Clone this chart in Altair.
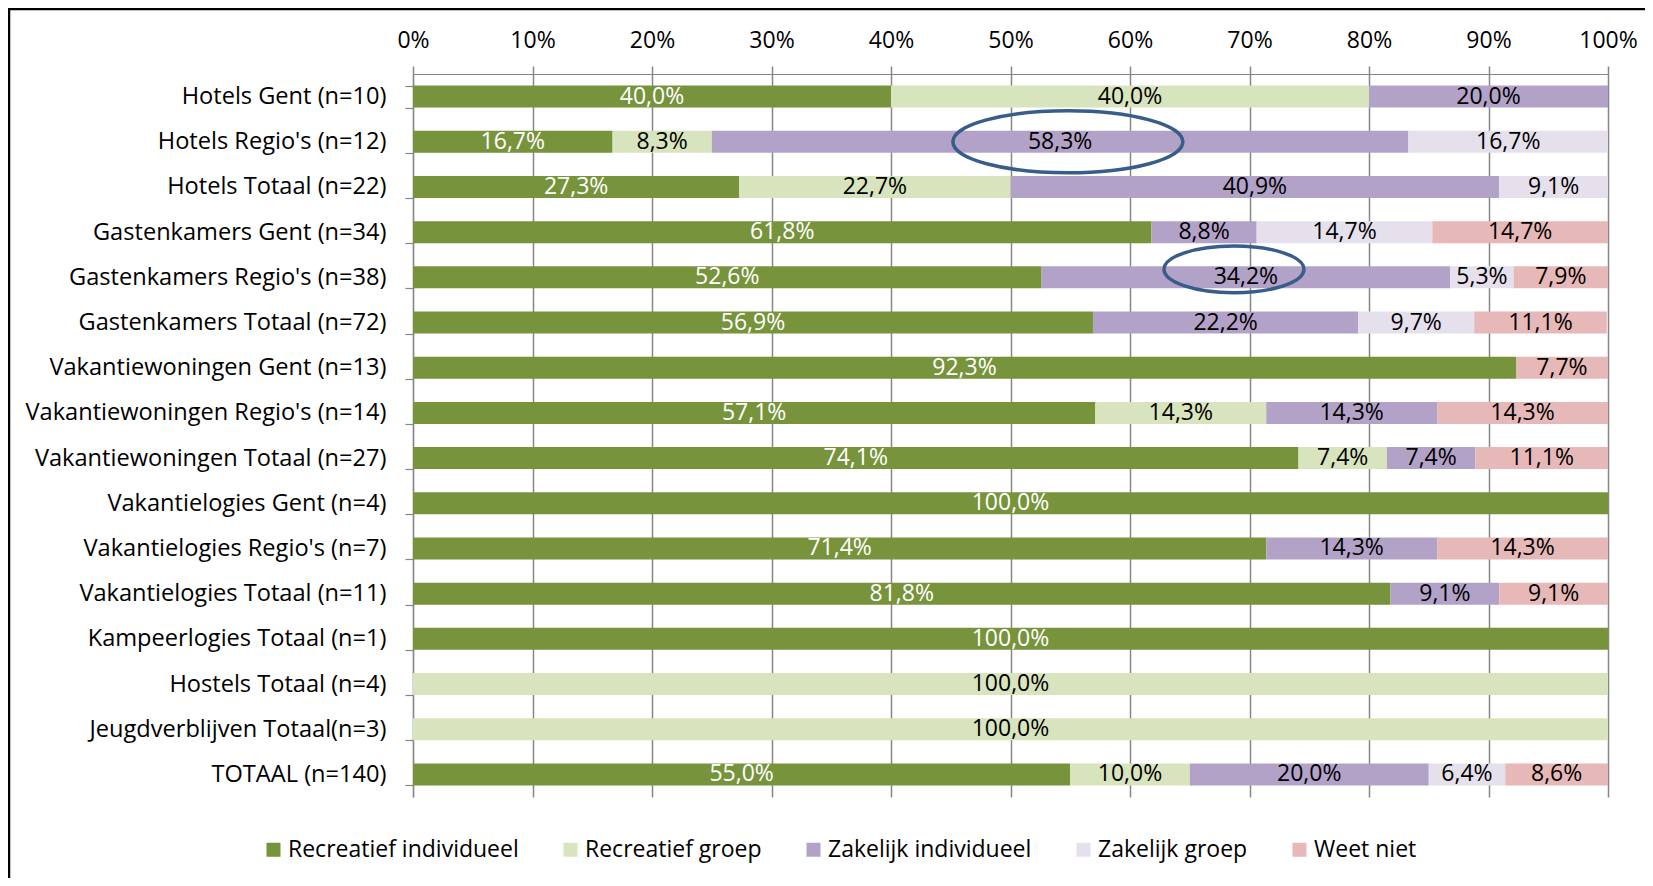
import altair as alt
import pandas as pd

categories = [
    "Hotels Gent (n=10)",
    "Hotels Regio's (n=12)",
    "Hotels Totaal (n=22)",
    "Gastenkamers Gent (n=34)",
    "Gastenkamers Regio's (n=38)",
    "Gastenkamers Totaal (n=72)",
    "Vakantiewoningen Gent (n=13)",
    "Vakantiewoningen Regio's (n=14)",
    "Vakantiewoningen Totaal (n=27)",
    "Vakantielogies Gent (n=4)",
    "Vakantielogies Regio's (n=7)",
    "Vakantielogies Totaal (n=11)",
    "Kampeerlogies Totaal (n=1)",
    "Hostels Totaal (n=4)",
    "Jeugdverblijven Totaal(n=3)",
    "TOTAAL (n=140)",
]
series = ["Recreatief individueel", "Recreatief groep", "Zakelijk individueel",
          "Zakelijk groep", "Weet niet"]

rec_individueel = [40.0, 16.7, 27.3, 61.8, 52.6, 56.9, 92.3, 57.1, 74.1, 100.0, 71.4, 81.8, 100.0, 0, 0, 55.0]
rec_groep = [40.0, 8.3, 22.7, 0, 0, 0, 0, 14.3, 7.4, 0, 0, 0, 0, 100.0, 100.0, 10.0]
zak_individueel = [20.0, 58.3, 40.9, 8.8, 34.2, 22.2, 0, 14.3, 7.4, 0, 14.3, 9.1, 0, 0, 0, 20.0]
zak_groep = [0, 16.7, 9.1, 14.7, 5.3, 9.7, 0, 0, 0, 0, 0, 0, 0, 0, 0, 6.4]
weet_niet = [0, 0, 0, 14.7, 7.9, 11.1, 7.7, 14.3, 11.1, 0, 14.3, 9.1, 0, 0, 0, 8.6]

colors = ["#77933C", "#D7E4BD", "#B3A2C7", "#E6E0EC", "#E6B9B8"]
x_ticks = list(range(0, 101, 10))

# annotation ellipses (category, centre in %)
ellipse_rows = ["Hotels Regio's (n=12)", "Gastenkamers Regio's (n=38)"]
ellipse_centres = [54.8, 68.7]

FONT = "Open Sans"
FS = 23
GRID = "#868686"

values = [rec_individueel, rec_groep, zak_individueel, zak_groep, weet_niet]
rows = []
for i, cat in enumerate(categories):
    start = 0.0
    for s, ser in enumerate(series):
        v = values[s][i]
        if v > 0:
            rows.append({
                "cat": cat, "series": ser, "start": start, "end": start + v,
                "mid": start + v / 2,
                "label": f"{v:.1f}".replace(".", ",") + "%",
            })
        start += v
df = pd.DataFrame(rows)

y_enc = alt.Y(
    "cat:N", sort=categories, title=None,
    scale=alt.Scale(domain=categories, paddingInner=0.513, paddingOuter=0.2565),
    axis=alt.Axis(
        orient="left", domain=True, domainColor=GRID, domainWidth=1.2,
        ticks=True, tickBand="extent", tickSize=8, tickColor=GRID, tickWidth=1.2,
        labelFont=FONT, labelFontSize=23.6, labelColor="black", labelPadding=19,
        labelLimit=0, grid=False,
    ),
)

x_scale = alt.Scale(domain=[0, 100], nice=False, zero=True)

bars = alt.Chart(df).mark_bar().encode(
    y=y_enc,
    x=alt.X(
        "start:Q", scale=x_scale, title=None,
        axis=alt.Axis(
            orient="top", values=x_ticks, labelExpr="datum.value + '%'",
            domain=True, domainColor=GRID, domainWidth=1.2,
            ticks=True, tickSize=8, tickColor=GRID, tickWidth=1.5,
            grid=True, gridColor=GRID, gridWidth=1.5,
            labelFont=FONT, labelFontSize=FS, labelColor="black", labelPadding=14,
            labelFlush=False,
        ),
    ),
    x2="end:Q",
    color=alt.Color(
        "series:N", scale=alt.Scale(domain=series, range=colors),
        legend=alt.Legend(
            title=None, orient="none", direction="horizontal",
            legendX=-151, legendY=764, padding=0,
            symbolType="square", symbolSize=196, symbolStrokeWidth=0,
            labelFont=FONT, labelFontSize=FS, labelColor="black",
            labelOffset=3, columnPadding=40, labelLimit=0,
        ),
    ),
)

text = alt.Chart(df).mark_text(font=FONT, fontSize=FS, baseline="middle", align="center").encode(
    y=alt.Y("cat:N", sort=categories),
    x=alt.X("mid:Q", scale=x_scale),
    text="label:N",
    color=alt.condition(alt.datum.series == series[0], alt.value("white"), alt.value("black")),
)

edf = pd.DataFrame({"cat": ellipse_rows, "x": ellipse_centres})

ell1 = alt.Chart(edf.iloc[[0]]).mark_point(
    shape="M -1 0 A 1 0.27 0 1 0 1 0 A 1 0.27 0 1 0 -1 0 Z",
    size=52900, filled=False, stroke="#385D8A", strokeWidth=3.5, opacity=1,
).encode(y=alt.Y("cat:N", sort=categories), x=alt.X("x:Q", scale=x_scale))

ell2 = alt.Chart(edf.iloc[[1]]).mark_point(
    shape="M -1 0 A 1 0.333 0 1 0 1 0 A 1 0.333 0 1 0 -1 0 Z",
    size=19600, filled=False, stroke="#385D8A", strokeWidth=3.5, opacity=1,
).encode(y=alt.Y("cat:N", sort=categories), x=alt.X("x:Q", scale=x_scale),
         yOffset=alt.value(3))

frame = alt.Chart(pd.DataFrame({"f": [0]})).mark_rect(
    fillOpacity=0, stroke="black", strokeWidth=2.5
).encode(
    x=alt.value(-404), x2=alt.value(1400), y=alt.value(-65), y2=alt.value(1000)
)

chart = alt.layer(frame, bars, text, ell1, ell2).properties(
    width=1195, height=723,
    autosize=alt.AutoSizeParams(type="none"),
    padding={"left": 405, "top": 66, "right": 37, "bottom": 81},
).configure_view(stroke=None)

chart.save("out.html", embed_options={"renderer": "svg", "actions": False})
